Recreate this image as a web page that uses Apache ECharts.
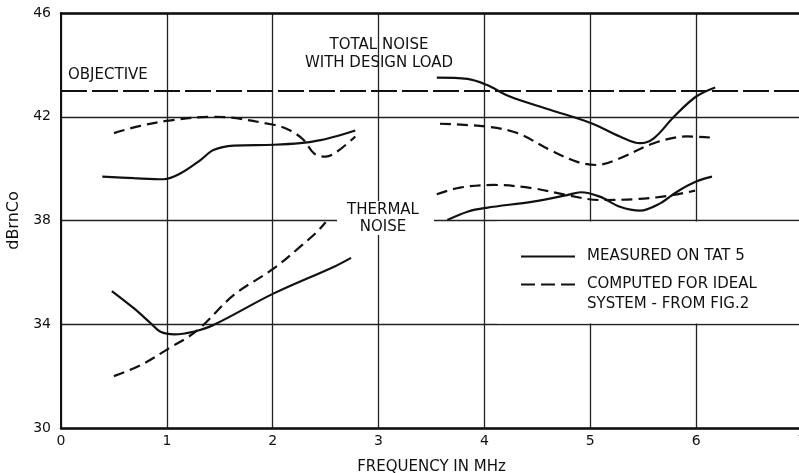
<!DOCTYPE html>
<html>
<head>
<meta charset="utf-8">
<script src="https://cdn.jsdelivr.net/npm/echarts@6/dist/echarts.min.js"></script>
<style>html,body{margin:0;padding:0;background:#fff}#c{width:799px;height:473px}</style>
</head>
<body>
<div id="c"></div>
<script>
// ---- data ----
const xTicks = [0, 1, 2, 3, 4, 5, 6, 7];
const yTicks = [30, 34, 38, 42, 46];
const objectiveLevel = 43;

// total noise with design load, low band
const totalMeasuredLow = [[0.39,39.69],[0.69,39.63],[0.97,39.59],[1.13,39.82],[1.32,40.34],[1.44,40.72],[1.63,40.89],[2.01,40.92],[2.26,40.98],[2.45,41.10],[2.61,41.26],[2.78,41.47]];
const totalComputedLow = [[0.50,41.37],[0.75,41.65],[1.02,41.85],[1.44,42.00],[2.01,41.69],[2.17,41.46],[2.29,41.11],[2.39,40.59],[2.50,40.46],[2.61,40.66],[2.78,41.24]];
// total noise, high band
const totalMeasuredHigh = [[3.55,43.51],[3.84,43.46],[4.02,43.23],[4.24,42.78],[4.62,42.27],[5.01,41.75],[5.28,41.24],[5.47,40.98],[5.60,41.17],[5.79,42.00],[6.00,42.78],[6.18,43.13]];
const totalComputedHigh = [[3.58,41.73],[4.02,41.62],[4.31,41.37],[4.62,40.72],[4.87,40.27],[5.06,40.14],[5.28,40.40],[5.60,40.98],[5.91,41.24],[6.13,41.20]];
// thermal noise, low band
const thermalMeasuredLow = [[0.48,35.28],[0.69,34.61],[0.85,34.03],[0.94,33.71],[1.07,33.61],[1.25,33.71],[1.44,33.97],[2.01,35.19],[2.58,36.22],[2.74,36.56]];
const thermalComputedLow = [[0.50,32.00],[0.75,32.42],[1.02,33.07],[1.29,33.77],[1.63,35.12],[2.01,36.15],[2.26,36.99],[2.42,37.57],[2.50,37.93]];
// thermal noise, high band
const thermalMeasuredHigh = [[3.65,38.02],[3.84,38.34],[4.02,38.49],[4.46,38.73],[4.78,38.98],[4.91,39.09],[5.09,38.92],[5.28,38.53],[5.47,38.38],[5.66,38.66],[5.82,39.11],[6.00,39.50],[6.15,39.69]];
const thermalComputedHigh = [[3.55,39.01],[3.77,39.27],[4.09,39.37],[4.46,39.24],[4.78,38.98],[5.09,38.79],[5.41,38.82],[5.72,38.94],[5.99,39.15]];

const measuredName = 'MEASURED ON TAT 5';
const computedName = 'COMPUTED FOR IDEAL';

// ---- chart ----
const FONT = 'DejaVu Sans';
const INK = '#111';
const chart = echarts.init(document.getElementById('c'), null, {renderer: 'canvas'});

function curve(name, data, dashed) {
  return {
    type: 'line', name: name, data: data, smooth: 0.35,
    showSymbol: false, symbol: 'none', silent: true, z: 3,
    lineStyle: {color: INK, width: 2.2, type: dashed ? [11, 6] : 'solid'},
    itemStyle: {color: INK}
  };
}

const solidIcon = 'path://M0,0H54V2.2H0Z';
const dashedIcon = 'path://M0,0H14V2.2H0Z M20,0H34V2.2H20Z M40,0H54V2.2H40Z';

const option = {
  animation: false,
  backgroundColor: '#fff',
  grid: {left: 61, top: 13, width: 741, height: 415, containLabel: false, outerBoundsMode: 'none'},
  xAxis: [{
    type: 'value', min: xTicks[0], max: xTicks[xTicks.length - 1], interval: 1,
    name: 'FREQUENCY IN MHz', nameLocation: 'middle', nameGap: 32,
    nameTextStyle: {fontFamily: FONT, fontSize: 15, color: INK},
    axisLine: {show: true, onZero: false, lineStyle: {color: INK, width: 2.5}},
    axisTick: {show: false},
    axisLabel: {fontFamily: FONT, fontSize: 14, color: INK, margin: 6},
    splitLine: {show: true, lineStyle: {color: '#222', width: 1.3}}
  }, {
    type: 'value', position: 'top', min: xTicks[0], max: xTicks[xTicks.length - 1], interval: 1,
    axisLine: {show: true, lineStyle: {color: INK, width: 2.5}},
    axisTick: {show: false}, axisLabel: {show: false}, splitLine: {show: false}
  }],
  yAxis: {
    type: 'value', min: yTicks[0], max: yTicks[yTicks.length - 1], interval: 4,
    name: 'dBrnCo', nameLocation: 'middle', nameGap: 30,
    nameTextStyle: {fontFamily: FONT, fontSize: 16, color: INK},
    axisLine: {show: true, lineStyle: {color: INK, width: 2}},
    axisTick: {show: false},
    axisLabel: {fontFamily: FONT, fontSize: 14, color: INK, margin: 10},
    splitLine: {show: true, lineStyle: {color: '#222', width: 1.3}}
  },
  legend: {
    orient: 'vertical', left: 521, top: 249, itemGap: 13, padding: 0,
    itemWidth: 54, itemHeight: 14, selectedMode: false,
    data: [{name: measuredName, icon: solidIcon}, {name: computedName, icon: dashedIcon}],
    itemStyle: {color: INK, borderWidth: 0},
    textStyle: {fontFamily: FONT, fontSize: 15, color: INK, padding: [0, 0, 0, 7]}
  },
  series: [
    {
      type: 'line', name: 'OBJECTIVE', data: [], silent: true,
      markLine: {
        silent: true, symbol: 'none', label: {show: false},
        lineStyle: {color: INK, width: 1.8, type: [26, 5]},
        data: [{yAxis: objectiveLevel}]
      }
    },
    curve(measuredName, totalMeasuredLow, false),
    curve(computedName, totalComputedLow, true),
    curve(measuredName, totalMeasuredHigh, false),
    curve(computedName, totalComputedHigh, true),
    curve(measuredName, thermalMeasuredLow, false),
    curve(computedName, thermalComputedLow, true),
    curve(measuredName, thermalMeasuredHigh, false),
    curve(computedName, thermalComputedHigh, true)
  ],
  graphic: [
    // white panels that interrupt the grid (legend area, thermal label)
    {type: 'rect', z: 1, silent: true, shape: {x: 497, y: 221.5, width: 302, height: 102}, style: {fill: '#fff'}},
    {type: 'rect', z: 1, silent: true, shape: {x: 337, y: 201, width: 97, height: 34}, style: {fill: '#fff'}},
    // annotations
    {type: 'text', z: 5, x: 68, y: 75, style: {text: 'OBJECTIVE', font: '15px "DejaVu Sans"', fill: INK, textVerticalAlign: 'middle'}},
    {type: 'text', z: 5, x: 379, y: 45, style: {text: 'TOTAL NOISE', font: '15px "DejaVu Sans"', fill: INK, textAlign: 'center', textVerticalAlign: 'middle'}},
    {type: 'text', z: 5, x: 379, y: 63, style: {text: 'WITH DESIGN LOAD', font: '15px "DejaVu Sans"', fill: INK, textAlign: 'center', textVerticalAlign: 'middle'}},
    {type: 'text', z: 5, x: 383, y: 210, style: {text: 'THERMAL', font: '15px "DejaVu Sans"', fill: INK, textAlign: 'center', textVerticalAlign: 'middle'}},
    {type: 'text', z: 5, x: 383, y: 227, style: {text: 'NOISE', font: '15px "DejaVu Sans"', fill: INK, textAlign: 'center', textVerticalAlign: 'middle'}},
    {type: 'text', z: 5, x: 587, y: 304, style: {text: 'SYSTEM - FROM FIG.2', font: '15px "DejaVu Sans"', fill: INK, textVerticalAlign: 'middle'}}
  ]
};
chart.setOption(option);
</script>
</body>
</html>
